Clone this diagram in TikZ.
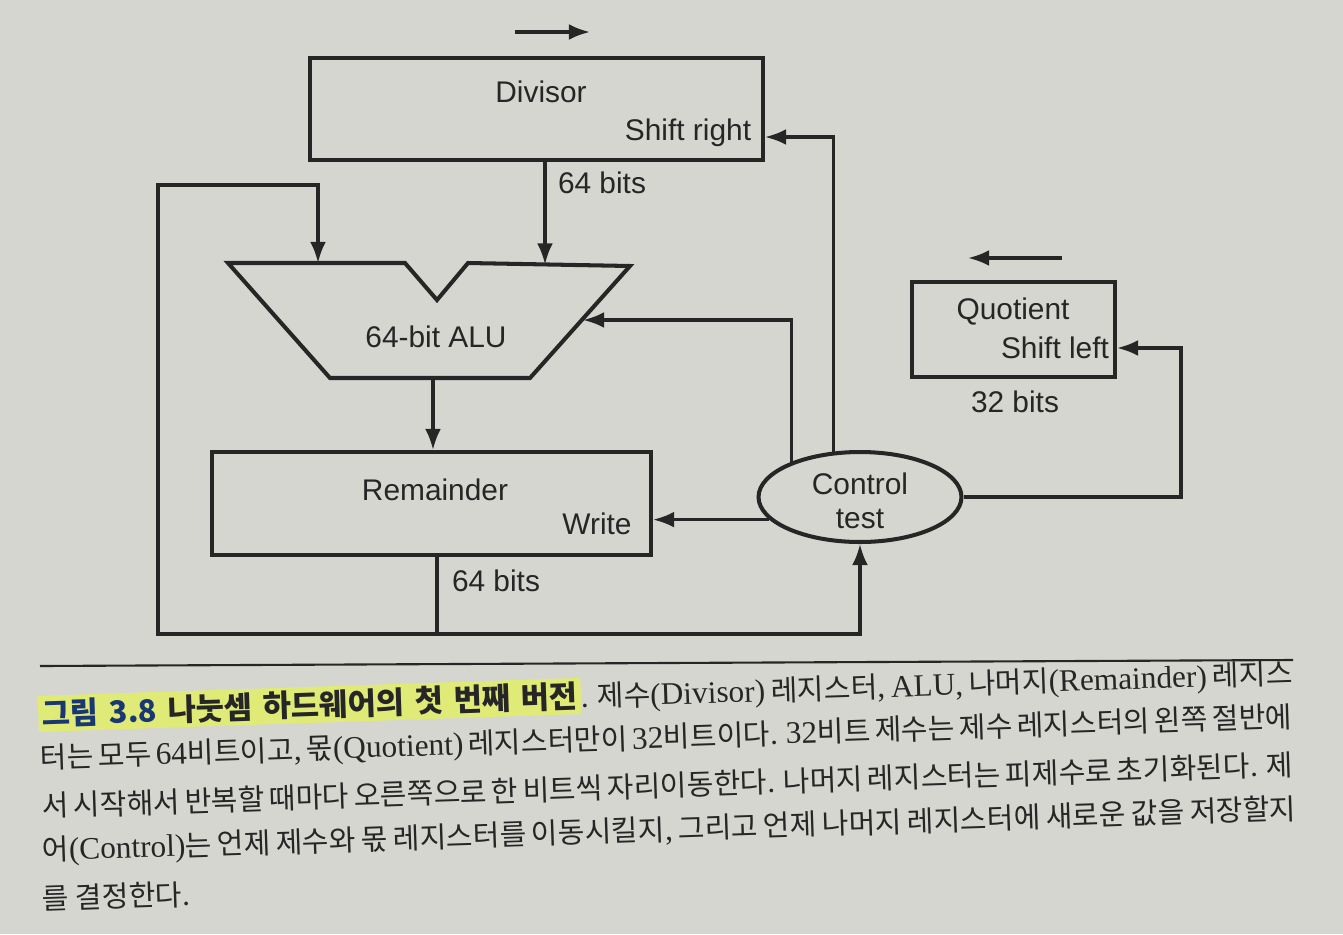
\documentclass[tikz,border=0pt]{standalone}
\usepackage{fontspec}
\setmainfont{Liberation Sans}
\newfontfamily\kr{Noto Sans CJK KR}
\newfontfamily\la{Liberation Serif}[Scale=1.08]
\usetikzlibrary{arrows.meta,shapes.geometric}
\definecolor{bg}{RGB}{214,214,209}
\definecolor{ink}{RGB}{38,38,38}
\definecolor{capblue}{RGB}{25,55,115}
\definecolor{hl}{RGB}{224,234,118}
\newcommand{\tsp}{\hspace{6pt}}
\begin{document}
\begin{tikzpicture}[x=0.02cm,y=-0.02cm,
  reg/.style={draw=ink,line width=2.3pt,inner sep=0pt},
  conn/.style={draw=ink,line width=1.8pt},
  arr/.style={-{Latex[length=12pt,width=9pt]}},
  lbl/.style={font=\fontsize{17}{19.5}\selectfont,text=ink,inner sep=0pt},
  capline/.style={anchor=west,rotate=1.9,inner sep=0pt,text=ink,font=\kr\fontsize{16.5}{19}\selectfont}]
\fill[bg] (0,0) rectangle (1343,934);
\useasboundingbox (0,0) rectangle (1343,934);

% registers
\node[reg,minimum width=9.06cm,minimum height=2.04cm] (div) at (536.5,109) {};
\node[reg,minimum width=8.78cm,minimum height=2.06cm] (rem) at (431.5,503.5) {};
\node[reg,minimum width=4.06cm,minimum height=1.9cm] (quo) at (1013.5,329.5) {};
\node[reg,ellipse,minimum width=4.06cm,minimum height=1.8cm] (ctl) at (860,497) {};

% ALU
\coordinate (a1) at (228,263);
\coordinate (a2) at (405,263);
\coordinate (a3) at (437,300);
\coordinate (a4) at (468,263);
\coordinate (a5) at (630,266);
\coordinate (a6) at (530,378);
\coordinate (a7) at (330,378);
\draw[reg,line join=miter] (a1) -- (a2) -- (a3) -- (a4) -- (a5) -- (a6) -- (a7) -- cycle;
\coordinate (aluLin) at (318,263);
\coordinate (aluRin) at (545,264.5);
\coordinate (aluSide) at (583,320);
\coordinate (aluOut) at (433,378);

% texts
\node[lbl] (tdiv) at (541,92) {Divisor};
\node[lbl] (tsr) at (688,133) {Shift right};
\node[lbl] (talu) at (436,337) {64-bit ALU};
\node[lbl] (trem) at (435,490) {Remainder};
\node[lbl] (twr) at (597,524) {Write};
\node[lbl,align=center] (tctl) at (860,501) {Control\\test};
\node[lbl] (tquo) at (1013,311) {Quotient};
\node[lbl] (tsl) at (1055,348) {Shift left};
\node[lbl] (b64a) at (602,183) {64 bits};
\node[lbl] (b64b) at (496,581) {64 bits};
\node[lbl] (b32) at (1015,402) {32 bits};

% direction arrows
\coordinate (da1) at (515,32);
\coordinate (da2) at (590,32);
\draw[conn,arr] (da1) -- (da2);
\coordinate (qa1) at (1062,258);
\coordinate (qa2) at (968,258);
\draw[conn,arr] (qa1) -- (qa2);

% connectors
\coordinate (junc) at (437,634);
\coordinate (tl) at (158,185);
\coordinate (c1) at (835,137);
\coordinate (qr) at (1181,348);
\draw[conn,arr] (div.south -| aluRin) -- (aluRin);
\draw[conn,arr] (aluOut) -- (rem.north -| aluOut);
\draw[conn] (rem.south -| junc) -- (junc);
\draw[conn,arr,line join=miter] (junc) -- (junc -| tl) -- (tl) -| (aluLin);
\draw[conn,arr,line join=miter] (junc) -| (ctl.south);
\draw[conn,arr,line join=miter] (ctl.120) |- (div.east |- c1);
\draw[conn,arr,line join=miter] (ctl.153) |- (aluSide);
\draw[conn,arr] (ctl.194) -- (rem.east |- ctl.194);
\draw[conn,arr,line join=miter] (ctl.east) -| (qr) -- (quo.east |- qr);

% caption
\coordinate (r1) at (40,666);
\coordinate (r2) at (1293,660);
\draw[ink,line width=1.2pt] (r1) -- (r2);
\setlength{\fboxsep}{2pt}
\node[capline] (l1) at (38,714) {\makebox[25.1cm][s]{\colorbox{hl}{\fontsize{17.5}{20}\selectfont\bfseries{\color{capblue}그림\tsp 3.8}\tsp 나눗셈\tsp 하드웨어의\tsp 첫\tsp 번째\tsp 버전}{\la.} 제수{\la(Divisor)} 레지스터{\la,} {\la ALU,} 나머지{\la(Remainder)} 레지스}};
\node[capline] (l2) at (40,760) {\makebox[25.06cm][s]{터는 모두 {\la 64}비트이고{\la,} 몫{\la(Quotient)} 레지스터만이 {\la 32}비트이다{\la.} {\la 32}비트 제수는 제수 레지스터의 왼쪽 절반에}};
\node[capline] (l3) at (42,806) {\makebox[25.02cm][s]{서 시작해서 반복할 때마다 오른쪽으로 한 비트씩 자리이동한다{\la.} 나머지 레지스터는 피제수로 초기화된다{\la.} 제}};
\node[capline] (l4) at (42,852) {\makebox[25.1cm][s]{어{\la(Control)}는 언제 제수와 몫 레지스터를 이동시킬지{\la,} 그리고 언제 나머지 레지스터에 새로운 값을 저장할지}};
\node[capline] (l5) at (42,899) {를 결정한다{\la.}};
\end{tikzpicture}
\end{document}
